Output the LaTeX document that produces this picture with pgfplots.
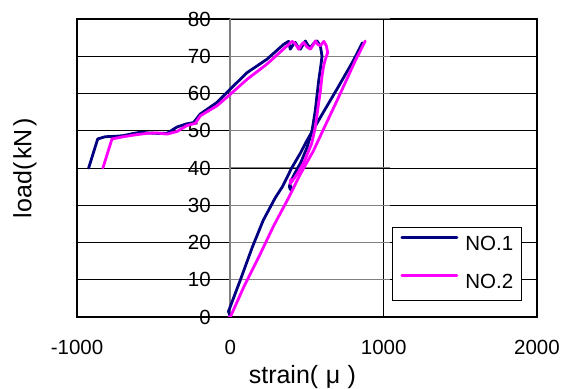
\documentclass[border=0pt]{standalone}
\usepackage{fontspec}
\setmainfont{Liberation Sans}
\usepackage{pgfplots}
\usepackage{pgfplotstable}
\pgfplotsset{compat=1.18}
\definecolor{navyA}{RGB}{0,0,128}
\definecolor{magB}{RGB}{255,0,255}

\pgfplotstableread{
x y
0 0
-12 1.5
20 5
65 9.9
143 18.7
215 26.0
293 32.0
340 35.0
400 40.0
457 44.0
500 47.4
600 54.5
700 61.5
802 68.8
861 73.6
}\onea

\pgfplotstableread{
x y
-924 40.0
-865 47.8
-815 48.4
-750 48.5
-696 48.7
-640 49.2
-587 49.6
-530 49.4
-478 49.3
-413 49.3
-348 51.0
-290 51.8
-240 52.2
-196 54.5
-87 57.6
0 61.2
109 65.6
239 69.2
348 73.2
380 74.0
391 71.9
408 73.0
424 73.7
440 72.5
457 71.9
475 73.2
489 74.1
505 73.0
522 72.3
545 73.5
565 74.1
587 72.8
598 70.0
592 68.0
576 63.4
554 55.4
533 50.0
500 45.5
460 41.5
420 38.5
395 36.5
385 35.0
392 34.2
398 35.0
}\oneb

\pgfplotstableread{
x y
-10 0
0 0
87 8.0
196 17.0
283 24.5
380 32.0
457 38.4
543 44.7
620 51.5
696 58.1
815 68.8
880 74.1
}\twoa

\pgfplotstableread{
x y
-831 40.0
-772 47.8
-696 48.4
-620 48.9
-543 49.3
-480 49.4
-413 49.1
-348 49.8
-283 51.4
-228 52.0
-196 54.0
-87 56.7
0 59.8
109 63.8
239 67.9
370 72.8
402 74.0
420 73.5
446 71.9
462 73.0
478 73.7
500 72.5
522 71.9
540 73.0
554 74.1
570 73.2
587 72.8
610 74.0
626 72.8
635 71.0
620 69.2
609 67.5
598 64.7
587 60.5
576 57.5
554 50.9
530 46.5
480 41.5
430 38.0
391 35.8
395 37.0
}\twob

\begin{document}
\fontsize{20.5bp}{24bp}\selectfont
\begin{tikzpicture}
\begin{axis}[name=ax, scale only axis, width=460bp, height=298bp,
 xmin=-1000, xmax=2000, ymin=0, ymax=80,
 xtick={-1000,0,1000,2000}, xticklabels={{-1000},0,1000,2000},
 ytick={0,10,...,80},
 major tick length=0pt,
 xmajorgrids, ymajorgrids,
 grid style={black, line width=0.8bp},
 axis line style={black, line width=2.2bp},
 xticklabel style={anchor=north, inner sep=0pt, yshift=-23bp},
 yticklabel style={anchor=east, inner sep=0pt, xshift=134bp},
 /pgf/number format/assume math mode=true,
 xlabel={strain(\hspace{0.3em}μ\hspace{0.3em})}, ylabel={load(\hspace{0.12em}kN\hspace{0.12em})},
 label style={font=\fontsize{25bp}{30bp}\selectfont},
 xlabel style={at={(axis description cs:0.49,0)}, anchor=center, yshift=-60bp, inner sep=0pt},
 ylabel style={at={(axis description cs:0,0.5)}, anchor=center, yshift=52bp, inner sep=0pt},
 legend style={at={(axis description cs:0.685,0.302)}, anchor=north west,
   draw=black, line width=0.8bp, fill=white, inner xsep=8bp, inner ysep=8.6bp,
   row sep=21bp, column sep=7bp, nodes={inner sep=0pt}},
 legend cell align=left,
 legend image code/.code={\draw[#1] (0bp,7.3bp) -- (55bp,7.3bp);},
 every axis plot/.append style={line width=2.8bp, line join=round, line cap=round},
]
\draw[gray, line width=2bp] (axis cs:0,0) -- (axis cs:0,80);
\pgfplotsinvokeforeach{10,20,...,80}{\draw[gray, line width=1bp] (axis cs:0,#1) -- ++(6bp,0);}
\addplot[navyA, no marks] table {\onea};
\addlegendentry{NO.1}
\addplot[navyA, no marks, forget plot] table {\oneb};
\addplot[magB, no marks] table {\twoa};
\addlegendentry{NO.2}
\addplot[magB, no marks, forget plot] table {\twob};
\end{axis}
\pgfresetboundingbox
\path ([xshift=-77bp,yshift=-72bp]ax.south west) rectangle ([xshift=25bp,yshift=19bp]ax.north east);
\end{tikzpicture}
\end{document}
